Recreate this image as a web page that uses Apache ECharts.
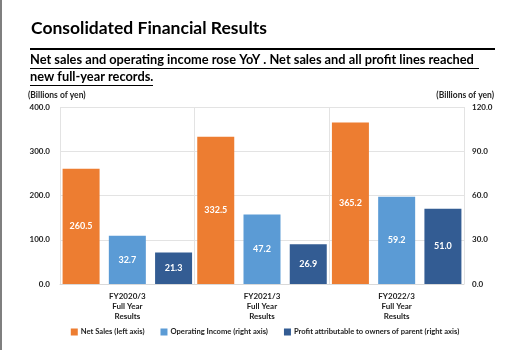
<!DOCTYPE html>
<html>
<head>
<meta charset="utf-8">
<script src="https://cdn.jsdelivr.net/npm/echarts@6/dist/echarts.min.js"></script>
<style>
  html, body { margin: 0; padding: 0; background: #fff; }
  #chart { width: 530px; height: 350px; }
</style>
</head>
<body>
<div id="chart"></div>
<script>
// data
var categories = ['FY2020/3\nFull Year\nResults', 'FY2021/3\nFull Year\nResults', 'FY2022/3\nFull Year\nResults'];
var netSales = [260.5, 332.5, 365.2];
var operatingIncome = [32.7, 47.2, 59.2];
var profitOwners = [21.3, 26.9, 51.0];
var seriesNames = ['Net Sales (left axis)', 'Operating Income (right axis)', 'Profit attributable to owners of parent (right axis)'];

var font = 'Lato';

var labelStyle = {
    show: true,
    position: 'inside',
    color: '#fff',
    fontFamily: font,
    fontWeight: 'bold',
    fontSize: 9,
    formatter: function(p) { return p.value.toFixed(1); }
};

var chart = echarts.init(document.getElementById('chart'));

chart.setOption({
    animation: false,
    color: ['#ED7D31', '#5B9BD5', '#335C93'],
    title: [
        {
            text: 'Consolidated Financial Results',
            left: 31, top: 19, padding: 0,
            textStyle: { fontFamily: font, fontWeight: 'bold', fontSize: 17.5, color: '#000' }
        },
        {
            text: 'Net sales and operating income rose YoY . Net sales and all profit lines reached\nnew full-year records.',
            left: 30, top: 51, padding: 0,
            textStyle: { fontFamily: font, fontWeight: 'bold', fontSize: 12.8, color: '#000', lineHeight: 17 }
        }
    ],
    graphic: [
        { type: 'rect', shape: { x: 0, y: 0, width: 2, height: 350 }, style: { fill: '#7f7f7f' } },
        { type: 'rect', shape: { x: 30, y: 48, width: 465, height: 2 }, style: { fill: '#000' } },
        { type: 'rect', shape: { x: 30, y: 68, width: 449, height: 1 }, style: { fill: '#000' } },
        { type: 'rect', shape: { x: 30, y: 85, width: 123, height: 1 }, style: { fill: '#000' } }
    ],
    legend: {
        top: 328,
        padding: 0,
        left: 'center',
        itemWidth: 7,
        itemHeight: 7,
        itemGap: 16,
        icon: 'rect',
        textStyle: { fontFamily: font, fontWeight: 'bold', fontSize: 7.6, color: '#222', padding: [0, 0, 0, -2] },
        data: seriesNames
    },
    grid: { left: 60, right: 66, top: 107, bottom: 66 },
    xAxis: {
        type: 'category',
        data: categories,
        axisTick: { show: false },
        axisLine: { lineStyle: { color: '#d9d9d9' } },
        splitLine: { show: true, lineStyle: { color: '#e3e3e3' } },
        axisLabel: { fontFamily: font, fontWeight: 'bold', fontSize: 8, color: '#222', lineHeight: 10, margin: 7 }
    },
    yAxis: [
        {
            type: 'value',
            min: 0, max: 400, interval: 100,
            name: '(Billions of yen)',
            nameLocation: 'end',
            nameGap: 7,
            nameTextStyle: { fontFamily: font, fontWeight: 'bold', fontSize: 8.5, color: '#222', align: 'left', padding: [0, 0, 0, -32] },
            axisLine: { show: false },
            axisTick: { show: false },
            splitLine: { lineStyle: { color: '#e3e3e3' } },
            axisLabel: { fontFamily: font, fontWeight: 'bold', fontSize: 8, color: '#222', margin: 10, formatter: function(v) { return v.toFixed(1); } }
        },
        {
            type: 'value',
            min: 0, max: 120, interval: 30,
            name: '(Billions of yen)',
            nameLocation: 'end',
            nameGap: 7,
            nameTextStyle: { fontFamily: font, fontWeight: 'bold', fontSize: 8.5, color: '#222', align: 'right', padding: [0, -30, 0, 0] },
            axisLine: { show: false },
            axisTick: { show: false },
            splitLine: { show: false },
            axisLabel: { fontFamily: font, fontWeight: 'bold', fontSize: 8, color: '#222', margin: 8, formatter: function(v) { return v.toFixed(1); } }
        }
    ],
    series: [
        { name: seriesNames[0], type: 'bar', yAxisIndex: 0, data: netSales, barWidth: 37, barGap: '25%', label: labelStyle },
        { name: seriesNames[1], type: 'bar', yAxisIndex: 1, data: operatingIncome, barWidth: 37, barGap: '25%', label: labelStyle },
        { name: seriesNames[2], type: 'bar', yAxisIndex: 1, data: profitOwners, barWidth: 37, barGap: '25%', label: labelStyle }
    ]
});
</script>
</body>
</html>
